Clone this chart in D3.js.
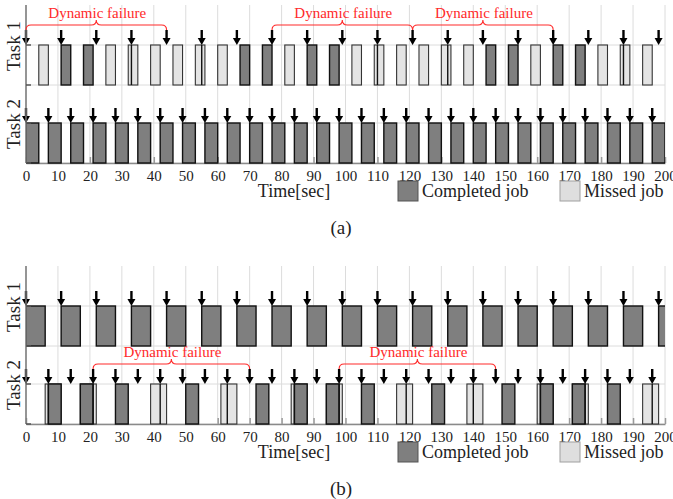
<!DOCTYPE html>
<html><head><meta charset="utf-8">
<script src="https://cdn.jsdelivr.net/npm/d3@7"></script>
<style>
body{margin:0;background:#fff}svg{display:block}
svg text{font-family:"Liberation Serif","Tinos","DejaVu Serif",serif !important}
</style>
</head><body>
<svg id="c" width="673" height="499"></svg>
<script>
// ---------- data ----------
const timeTicks = [0,10,20,30,40,50,60,70,80,90,100,110,120,130,140,150,160,170,180,190,200];
const taskNames = ["Task 1","Task 2"];
const releasesT1 = [0,11,22,33,44,55,66,77,88,99,110,121,132,143,154,165,176,187,198];
const releasesT2 = [0,7,14,21,28,35,42,49,56,63,70,77,84,91,98,105,112,119,126,133,140,147,154,161,168,175,182,189,196];

// panel (a)
const aT1Completed = [[11,14],[18,21],[67,70],[74,77],[88,91],[95,98],[144,147],[151,154],[165,168],[172,175]];
const aT1Missed = [[4,7],[25,28],[32,35],[39,42],[46,49],[53,56],[60,63],[81,84],[102,105],[109,112],[116,119],[123,126],[130,133],[137,140],[158,161],[179,182],[186,189],[193,196]];
const aT2Completed = [[0,4],[7,11],[14,18],[21,25],[28,32],[35,39],[42,46],[49,53],[56,60],[63,67],[70,74],[77,81],[84,88],[91,95],[98,102],[105,109],[112,116],[119,123],[126,130],[133,137],[140,144],[147,151],[154,158],[161,165],[168,172],[175,179],[182,186],[189,193],[196,200]];
const aT2Missed = [];
const aFailures = [[0,44],[77,121],[121,165]];

// panel (b)
const bT1Completed = [[0,6],[11,17],[22,28],[33,39],[44,50],[55,61],[66,72],[77,83],[88,94],[99,105],[110,116],[121,127],[132,138],[143,149],[154,160],[165,171],[176,182],[187,193],[198,204]];
const bT1Missed = [];
const bT2Completed = [[7,11],[17,21],[28,32],[50,54],[72,76],[84,88],[94,98],[105,109],[127,131],[149,153],[161,165],[171,175],[182,186]];
const bT2Missed = [[6,11],[17,22],[39,44],[61,66],[83,88],[94,99],[116,121],[138,143],[160,165],[171,176],[193,198]];
const bFailures = [[21,70],[98,147]];

const failureLabel = "Dynamic failure";
const axisTitle = "Time[sec]";
const legendLabels = ["Completed job","Missed job"];
const panelLabels = ["(a)","(b)"];

// ---------- styles ----------
const FONT = '"Liberation Serif", "Tinos", "DejaVu Serif", serif';
const DARK = "#7f7f7f", LIGHT = "#e4e4e4", RED = "#ff2a2a";

const svg = d3.select("#c");
const x = d3.scaleLinear().domain([0,200]).range([26,665]);
const yRow = d3.scalePoint().domain(taskNames).range([45,123]);
const rowH = 40, plotTop = 5, plotBottom = 163;

svg.append("defs").append("clipPath").attr("id","clip")
  .append("rect").attr("x",x(0)).attr("y",-1000).attr("width",x(200)-x(0)).attr("height",3000);

const panels = [
  {dy:0, label:panelLabels[0], failTask:"Task 1", failures:aFailures,
   rows:{"Task 1":{c:aT1Completed,m:aT1Missed,r:releasesT1},"Task 2":{c:aT2Completed,m:aT2Missed,r:releasesT2}}},
  {dy:261, label:panelLabels[1], failTask:"Task 2", failures:bFailures,
   rows:{"Task 1":{c:bT1Completed,m:bT1Missed,r:releasesT1},"Task 2":{c:bT2Completed,m:bT2Missed,r:releasesT2}}}
];

panels.forEach(p => {
  const g = svg.append("g").attr("transform",`translate(0,${p.dy})`);

  // vertical grid
  g.append("g").selectAll("line").data(timeTicks).join("line")
    .attr("x1",d=>x(d)).attr("x2",d=>x(d)).attr("y1",plotTop).attr("y2",plotBottom)
    .attr("stroke","#dcdcdc").attr("stroke-width",1);
  // horizontal row lines
  const hl = [];
  taskNames.forEach(t => { hl.push(yRow(t)); hl.push(yRow(t)+rowH); });
  g.append("g").selectAll("line").data(hl).join("line")
    .attr("x1",x(0)).attr("x2",x(200)).attr("y1",d=>d).attr("y2",d=>d)
    .attr("stroke","#dcdcdc").attr("stroke-width",1);

  // bottom axis
  const ax = g.append("g").attr("transform",`translate(0,${plotBottom})`)
    .call(d3.axisBottom(x).tickValues(timeTicks).tickSizeInner(-6).tickSizeOuter(0).tickPadding(7));
  ax.attr("font-family",FONT);
  ax.select(".domain").attr("stroke","#8a8a8a").attr("stroke-width",1.5);
  ax.selectAll(".tick line").attr("stroke","#9a9a9a").attr("stroke-width",1.5);
  ax.selectAll(".tick text").style("font-family",FONT).attr("font-size",15).attr("fill","#222");

  // boxes
  const bx = g.append("g").attr("clip-path","url(#clip)");
  taskNames.forEach(t => {
    const row = p.rows[t], top = yRow(t);
    bx.append("g").selectAll("rect").data(row.m).join("rect")
      .attr("x",d=>x(d[0])).attr("width",d=>x(d[1])-x(d[0]))
      .attr("y",top).attr("height",rowH)
      .attr("fill",LIGHT).attr("stroke","#333").attr("stroke-width",1.1);
    bx.append("g").selectAll("rect").data(row.c).join("rect")
      .attr("x",d=>x(d[0])).attr("width",d=>x(d[1])-x(d[0]))
      .attr("y",top).attr("height",rowH)
      .attr("fill",DARK).attr("stroke","#111").attr("stroke-width",1.4);
    const all = row.m.concat(row.c);
    const inside = row.r.filter(r => all.some(b => r > b[0]+0.01 && r < b[1]-0.01));
    bx.append("g").selectAll("line").data(inside).join("line")
      .attr("x1",d=>x(d)).attr("x2",d=>x(d)).attr("y1",top).attr("y2",top+rowH)
      .attr("stroke","#111").attr("stroke-width",1.4);
    const ag = g.append("g");
    ag.selectAll("line").data(row.r).join("line")
      .attr("x1",d=>x(d)).attr("x2",d=>x(d)).attr("y1",top-15).attr("y2",top-5)
      .attr("stroke","#000").attr("stroke-width",2.4);
    ag.selectAll("path").data(row.r).join("path")
      .attr("d",d=>`M${x(d)-4},${top-7}L${x(d)+4},${top-7}L${x(d)},${top}Z`)
      .attr("fill","#000");
  });

  // left axis
  g.append("line").attr("x1",x(0)).attr("x2",x(0)).attr("y1",plotTop).attr("y2",plotBottom)
    .attr("stroke","#777").attr("stroke-width",1.5);
  g.append("g").selectAll("line").data(hl).join("line")
    .attr("x1",x(0)).attr("x2",x(0)+5).attr("y1",d=>d).attr("y2",d=>d)
    .attr("stroke","#555").attr("stroke-width",1.5);

  // task labels
  taskNames.forEach(t => {
    g.append("text").attr("transform",`translate(13,${yRow(t)+1}) rotate(-90)`)
      .attr("text-anchor","middle").attr("dominant-baseline","central")
      .style("font-family",FONT).attr("font-size",19).attr("fill","#222").text(t);
  });

  // dynamic failure braces
  const yb = yRow(p.failTask) - 20;
  p.failures.forEach(f => {
    const x1 = x(f[0]), x2 = x(f[1]), xm = (x1+x2)/2, r = 5;
    g.append("path")
      .attr("d",`M${x1},${yb+5}Q${x1},${yb} ${x1+r},${yb}L${xm-r},${yb}Q${xm},${yb} ${xm},${yb-5}Q${xm},${yb} ${xm+r},${yb}L${x2-r},${yb}Q${x2},${yb} ${x2},${yb+5}`)
      .attr("fill","none").attr("stroke",RED).attr("stroke-width",1.1);
    g.append("text").attr("x",xm+1).attr("y",yb-7).attr("text-anchor","middle")
      .style("font-family",FONT).attr("font-size",15).attr("fill",RED).text(failureLabel);
  });

  // axis title
  g.append("text").attr("x",294).attr("y",197).attr("text-anchor","middle")
    .style("font-family",FONT).attr("font-size",18).attr("fill","#222").text(axisTitle);

  // legend
  const leg = [{x:398,fill:DARK,stroke:"#555",label:legendLabels[0]},{x:560,fill:"#dedede",stroke:"#a0a0a0",label:legendLabels[1]}];
  leg.forEach(l => {
    g.append("rect").attr("x",l.x).attr("y",181).attr("width",20).attr("height",20)
      .attr("fill",l.fill).attr("stroke",l.stroke).attr("stroke-width",1);
    g.append("text").attr("x",l.x+24).attr("y",197)
      .style("font-family",FONT).attr("font-size",18).attr("fill","#222").text(l.label);
  });

  // caption
  g.append("text").attr("x",341).attr("y",234).attr("text-anchor","middle")
    .style("font-family",FONT).attr("font-size",19).attr("fill","#222").text(p.label);
});
</script>
</body></html>
